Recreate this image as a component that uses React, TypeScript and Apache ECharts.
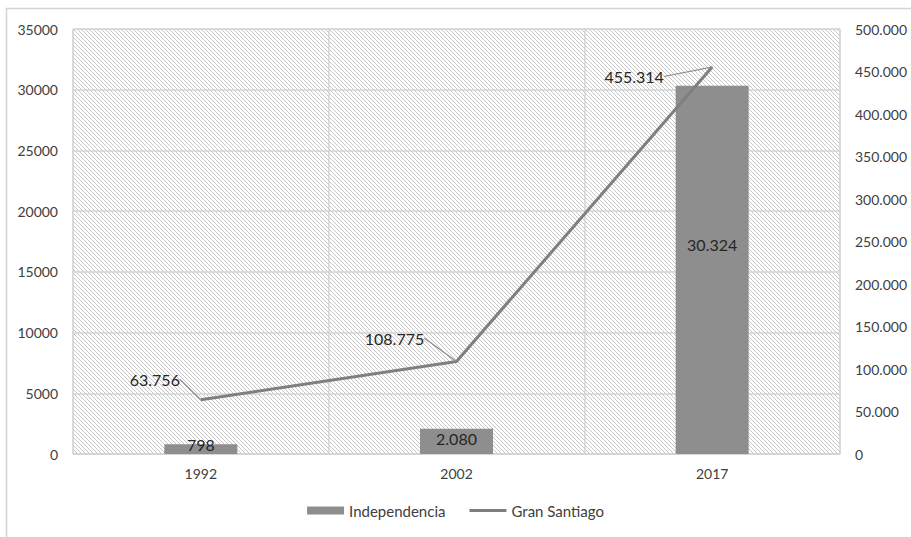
import React, { useEffect, useRef } from "react";
import * as echarts from "echarts";

const categories = ["1992", "2002", "2017"];
const independencia = [798, 2080, 30324];
const granSantiago = [63756, 108775, 455314];
const barLabelShift = [-5, -3, -25];
const lineLabelShift = [
  [-46, -7],
  [-62, -10],
  [-78, 23],
];

const dotFmt = (v: number) =>
  String(Math.round(v)).replace(/\B(?=(\d{3})+(?!\d))/g, ".");

function hatchURL(): string {
  const c = document.createElement("canvas");
  c.width = 4;
  c.height = 4;
  const ctx = c.getContext("2d")!;
  ctx.fillStyle = "#ffffff";
  ctx.fillRect(0, 0, 4, 4);
  ctx.fillStyle = "#c6c6c6";
  for (let i = 0; i < 4; i++) ctx.fillRect(i, i, 1, 1);
  return c.toDataURL();
}

export default function App() {
  const ref = useRef<HTMLDivElement>(null);
  useEffect(() => {
    const chart = echarts.init(ref.current!, null, { renderer: "svg" });
    const font = "Lato";
    chart.setOption({
      animation: false,
      backgroundColor: "#ffffff",
      textStyle: { fontFamily: font },
      grid: {
        left: 73,
        right: 71,
        top: 29,
        bottom: 83,
        show: true,
        borderColor: "#d4d4d4",
        borderWidth: 1,
        backgroundColor: {
          image: hatchURL(),
          repeat: "repeat",
          imageWidth: 4,
          imageHeight: 4,
        },
      },
      graphic: [
        {
          type: "rect",
          shape: { x: 6.5, y: 8.5, width: 1000, height: 1000 },
          style: { fill: "none", stroke: "#d4d4d4", lineWidth: 1.5 },
          silent: true,
        },
      ],
      legend: {
        bottom: 14,
        left: "center",
        itemWidth: 37,
        itemHeight: 8,
        itemGap: 24,
        textStyle: { fontFamily: font, fontSize: 15, color: "#404040" },
        data: [
          { name: "Independencia", icon: "rect" },
          { name: "Gran Santiago", icon: "path://M0,0H40V3H0Z" },
        ],
      },
      xAxis: {
        type: "category",
        data: categories,
        axisLine: { show: true, lineStyle: { color: "#d4d4d4", width: 1.5 } },
        axisTick: { show: false },
        splitLine: { show: true, lineStyle: { color: "#d4d4d4", width: 1.5 } },
        axisLabel: { color: "#404040", fontSize: 14, fontFamily: font, margin: 12 },
      },
      yAxis: [
        {
          type: "value",
          min: 0,
          max: 35000,
          interval: 5000,
          axisLine: { show: false },
          axisTick: { show: false },
          splitLine: { lineStyle: { color: "#d4d4d4", width: 1.5 } },
          axisLabel: {
            color: "#404040",
            fontSize: 14,
            fontFamily: font,
            margin: 15,
            formatter: (v: number) => String(v),
          },
        },
        {
          type: "value",
          min: 0,
          max: 500000,
          interval: 50000,
          axisLine: { show: false },
          axisTick: { show: false },
          splitLine: { show: false },
          axisLabel: {
            color: "#404040",
            fontSize: 14,
            fontFamily: font,
            margin: 15,
            formatter: (v: number) => dotFmt(v),
          },
        },
      ],
      series: [
        {
          name: "Independencia",
          type: "bar",
          barWidth: 73,
          itemStyle: { color: "#8e8e8e" },
          data: independencia.map((v, i) => ({
            value: v,
            label: {
              show: true,
              position: "inside",
              offset: [0, barLabelShift[i]],
              formatter: (p: any) => dotFmt(p.value),
              color: "#262626",
              fontSize: 16,
              fontFamily: font,
            },
          })),
        },
        {
          name: "Gran Santiago",
          type: "line",
          yAxisIndex: 1,
          symbol: "circle",
          symbolSize: 1,
          showSymbol: true,
          lineStyle: { color: "#7f7f7f", width: 3 },
          itemStyle: { color: "#7f7f7f" },
          data: granSantiago,
          label: {
            show: true,
            position: "top",
            formatter: (p: any) => dotFmt(p.value),
            color: "#262626",
            fontSize: 16,
            fontFamily: font,
          },
          labelLine: {
            show: true,
            lineStyle: { color: "#8c8c8c", width: 1.2 },
          },
          labelLayout: (p: any) => ({
            dx: lineLabelShift[p.dataIndex][0],
            dy: lineLabelShift[p.dataIndex][1],
          }),
        },
      ],
    });
    return () => chart.dispose();
  }, []);
  return (
    <div
      ref={ref}
      style={{ position: "absolute", left: 0, top: 0, width: 911, height: 537 }}
    />
  );
}
